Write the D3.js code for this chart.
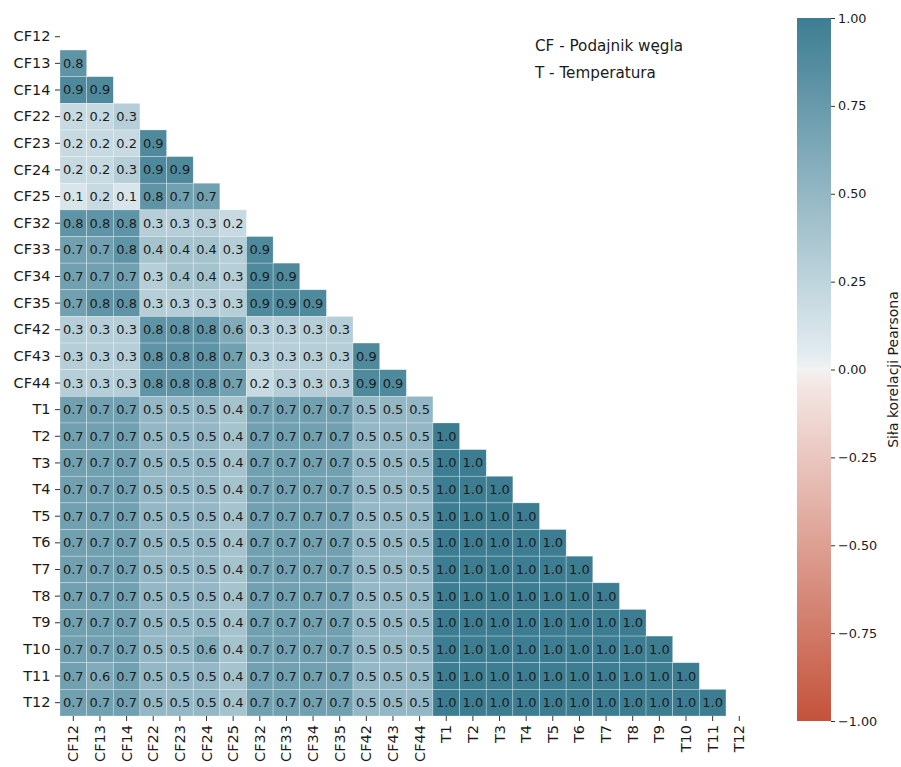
<!DOCTYPE html>
<html>
<head>
<meta charset="utf-8">
<script src="https://cdn.jsdelivr.net/npm/d3@7"></script>
<style>
  html, body { margin: 0; padding: 0; background: #fff; }
  svg { display: block; font-family: "DejaVu Sans", sans-serif; }
</style>
</head>
<body>
<svg id="chart" width="901" height="767"></svg>
<script>
// Variables of the correlation matrix (feeders CF and temperatures T)
const variables = ["CF12", "CF13", "CF14", "CF22", "CF23", "CF24", "CF25",
  "CF32", "CF33", "CF34", "CF35", "CF42", "CF43", "CF44",
  "T1", "T2", "T3", "T4", "T5", "T6", "T7", "T8", "T9", "T10", "T11", "T12"];

// Lower triangle of the Pearson matrix, row by row (row i holds columns 0..i-1)
const rowCF12 = [];
const rowCF13 = [0.8];
const rowCF14 = [0.9, 0.9];
const rowCF22 = [0.2, 0.2, 0.3];
const rowCF23 = [0.2, 0.2, 0.2, 0.9];
const rowCF24 = [0.2, 0.2, 0.3, 0.9, 0.9];
const rowCF25 = [0.1, 0.2, 0.1, 0.8, 0.7, 0.7];
const rowCF32 = [0.8, 0.8, 0.8, 0.3, 0.3, 0.3, 0.2];
const rowCF33 = [0.7, 0.7, 0.8, 0.4, 0.4, 0.4, 0.3, 0.9];
const rowCF34 = [0.7, 0.7, 0.7, 0.3, 0.4, 0.4, 0.3, 0.9, 0.9];
const rowCF35 = [0.7, 0.8, 0.8, 0.3, 0.3, 0.3, 0.3, 0.9, 0.9, 0.9];
const rowCF42 = [0.3, 0.3, 0.3, 0.8, 0.8, 0.8, 0.6, 0.3, 0.3, 0.3, 0.3];
const rowCF43 = [0.3, 0.3, 0.3, 0.8, 0.8, 0.8, 0.7, 0.3, 0.3, 0.3, 0.3, 0.9];
const rowCF44 = [0.3, 0.3, 0.3, 0.8, 0.8, 0.8, 0.7, 0.2, 0.3, 0.3, 0.3, 0.9, 0.9];
const rowT1  = [0.7, 0.7, 0.7, 0.5, 0.5, 0.5, 0.4, 0.7, 0.7, 0.7, 0.7, 0.5, 0.5, 0.5];
const rowT2  = [0.7, 0.7, 0.7, 0.5, 0.5, 0.5, 0.4, 0.7, 0.7, 0.7, 0.7, 0.5, 0.5, 0.5, 1.0];
const rowT3  = [0.7, 0.7, 0.7, 0.5, 0.5, 0.5, 0.4, 0.7, 0.7, 0.7, 0.7, 0.5, 0.5, 0.5, 1.0, 1.0];
const rowT4  = [0.7, 0.7, 0.7, 0.5, 0.5, 0.5, 0.4, 0.7, 0.7, 0.7, 0.7, 0.5, 0.5, 0.5, 1.0, 1.0, 1.0];
const rowT5  = [0.7, 0.7, 0.7, 0.5, 0.5, 0.5, 0.4, 0.7, 0.7, 0.7, 0.7, 0.5, 0.5, 0.5, 1.0, 1.0, 1.0, 1.0];
const rowT6  = [0.7, 0.7, 0.7, 0.5, 0.5, 0.5, 0.4, 0.7, 0.7, 0.7, 0.7, 0.5, 0.5, 0.5, 1.0, 1.0, 1.0, 1.0, 1.0];
const rowT7  = [0.7, 0.7, 0.7, 0.5, 0.5, 0.5, 0.4, 0.7, 0.7, 0.7, 0.7, 0.5, 0.5, 0.5, 1.0, 1.0, 1.0, 1.0, 1.0, 1.0];
const rowT8  = [0.7, 0.7, 0.7, 0.5, 0.5, 0.5, 0.4, 0.7, 0.7, 0.7, 0.7, 0.5, 0.5, 0.5, 1.0, 1.0, 1.0, 1.0, 1.0, 1.0, 1.0];
const rowT9  = [0.7, 0.7, 0.7, 0.5, 0.5, 0.5, 0.4, 0.7, 0.7, 0.7, 0.7, 0.5, 0.5, 0.5, 1.0, 1.0, 1.0, 1.0, 1.0, 1.0, 1.0, 1.0];
const rowT10 = [0.7, 0.7, 0.7, 0.5, 0.5, 0.6, 0.4, 0.7, 0.7, 0.7, 0.7, 0.5, 0.5, 0.5, 1.0, 1.0, 1.0, 1.0, 1.0, 1.0, 1.0, 1.0, 1.0];
const rowT11 = [0.7, 0.6, 0.7, 0.5, 0.5, 0.5, 0.4, 0.7, 0.7, 0.7, 0.7, 0.5, 0.5, 0.5, 1.0, 1.0, 1.0, 1.0, 1.0, 1.0, 1.0, 1.0, 1.0, 1.0];
const rowT12 = [0.7, 0.7, 0.7, 0.5, 0.5, 0.5, 0.4, 0.7, 0.7, 0.7, 0.7, 0.5, 0.5, 0.5, 1.0, 1.0, 1.0, 1.0, 1.0, 1.0, 1.0, 1.0, 1.0, 1.0, 1.0];

const matrixRows = [rowCF12, rowCF13, rowCF14, rowCF22, rowCF23, rowCF24, rowCF25,
  rowCF32, rowCF33, rowCF34, rowCF35, rowCF42, rowCF43, rowCF44,
  rowT1, rowT2, rowT3, rowT4, rowT5, rowT6, rowT7, rowT8, rowT9, rowT10, rowT11, rowT12];

const colorbarTicks = [-1, -0.75, -0.5, -0.25, 0, 0.25, 0.5, 0.75, 1];
const legendLines = ["CF - Podajnik węgla", "T - Temperatura"];
const colorbarTitle = "Siła korelacji Pearsona";

// Diverging red–light–blue colour map
const negEnd = d3.rgb(196, 82, 59), negLight = d3.rgb(246, 237, 235);
const posEnd = d3.rgb(61, 125, 146), posLight = d3.rgb(233, 241, 245);
const center = d3.rgb(242, 242, 242);
function colorOf(v) {
  if (v > 0) return d3.interpolateRgb(posLight, posEnd)(Math.min(v, 1));
  if (v < 0) return d3.interpolateRgb(negLight, negEnd)(Math.min(-v, 1));
  return center.formatHex();
}

const svg = d3.select("#chart");

const gridLeft = 60, gridRight = 752.6, gridTop = 23.4, gridBottom = 716;
const x = d3.scaleBand().domain(variables).range([gridLeft, gridRight]);
const y = d3.scaleBand().domain(variables).range([gridTop, gridBottom]);

const cells = [];
matrixRows.forEach((row, i) => {
  row.forEach((v, j) => cells.push({ r: variables[i], c: variables[j], v }));
});

const cellG = svg.append("g");
cellG.selectAll("rect").data(cells).join("rect")
  .attr("x", d => x(d.c))
  .attr("y", d => y(d.r))
  .attr("width", x.bandwidth())
  .attr("height", y.bandwidth())
  .attr("fill", d => colorOf(d.v))
  .attr("stroke", "rgba(255,255,255,0.45)")
  .attr("stroke-width", 0.6);

cellG.selectAll("text").data(cells).join("text")
  .attr("x", d => x(d.c) + x.bandwidth() / 2)
  .attr("y", d => y(d.r) + y.bandwidth() / 2)
  .attr("text-anchor", "middle")
  .attr("dominant-baseline", "central")
  .attr("font-size", 13)
  .attr("fill", "#1c1c1c")
  .text(d => d3.format(".1f")(d.v));

// Axes
const yAxis = svg.append("g")
  .attr("transform", `translate(${gridLeft},0)`)
  .call(d3.axisLeft(y).tickSize(5).tickPadding(4.5));
yAxis.select(".domain").remove();
yAxis.selectAll("text").attr("font-size", 14.5).attr("fill", "#1a1a1a")
  .attr("font-family", "DejaVu Sans, sans-serif");
yAxis.selectAll("line").attr("stroke", "#333");

const xAxis = svg.append("g")
  .attr("transform", `translate(0,${gridBottom})`)
  .call(d3.axisBottom(x).tickSize(5).tickPadding(3));
xAxis.select(".domain").remove();
xAxis.selectAll("line").attr("stroke", "#333");
xAxis.selectAll("text")
  .attr("font-size", 14.5).attr("fill", "#1a1a1a")
  .attr("font-family", "DejaVu Sans, sans-serif")
  .attr("text-anchor", "end")
  .attr("dominant-baseline", "central")
  .attr("dy", null)
  .attr("y", 0)
  .attr("transform", "translate(0,9) rotate(-90)");

// Legend text
svg.append("g").selectAll("text").data(legendLines).join("text")
  .attr("x", 535)
  .attr("y", (d, i) => 51 + i * 27)
  .attr("font-size", 15.2)
  .attr("fill", "#1a1a1a")
  .text(d => d);

// Colour bar
const cbX = 797, cbW = 34, cbTop = 18, cbBottom = 721;
const cbScale = d3.scaleLinear().domain([-1, 1]).range([cbBottom, cbTop]);
const defs = svg.append("defs");
const grad = defs.append("linearGradient").attr("id", "cbGrad")
  .attr("x1", 0).attr("y1", 1).attr("x2", 0).attr("y2", 0);
d3.range(-1, 1.0001, 0.05).forEach(v => {
  grad.append("stop").attr("offset", (v + 1) / 2).attr("stop-color", colorOf(Math.round(v * 100) / 100));
});
svg.append("rect")
  .attr("x", cbX).attr("y", cbTop)
  .attr("width", cbW).attr("height", cbBottom - cbTop)
  .attr("fill", "url(#cbGrad)");

const cbAxis = svg.append("g")
  .attr("transform", `translate(${cbX + cbW},0)`)
  .call(d3.axisRight(cbScale).tickValues(colorbarTicks).tickFormat(d3.format(".2f")).tickSize(4).tickPadding(3));
cbAxis.select(".domain").remove();
cbAxis.selectAll("line").attr("stroke", "#333");
cbAxis.selectAll("text").attr("font-size", 12.8).attr("fill", "#1a1a1a")
  .attr("font-family", "DejaVu Sans, sans-serif");

svg.append("text")
  .attr("transform", `translate(898,${(cbTop + cbBottom) / 2}) rotate(-90)`)
  .attr("text-anchor", "middle")
  .attr("font-size", 14)
  .attr("fill", "#1a1a1a")
  .text(colorbarTitle);
</script>
</body>
</html>
